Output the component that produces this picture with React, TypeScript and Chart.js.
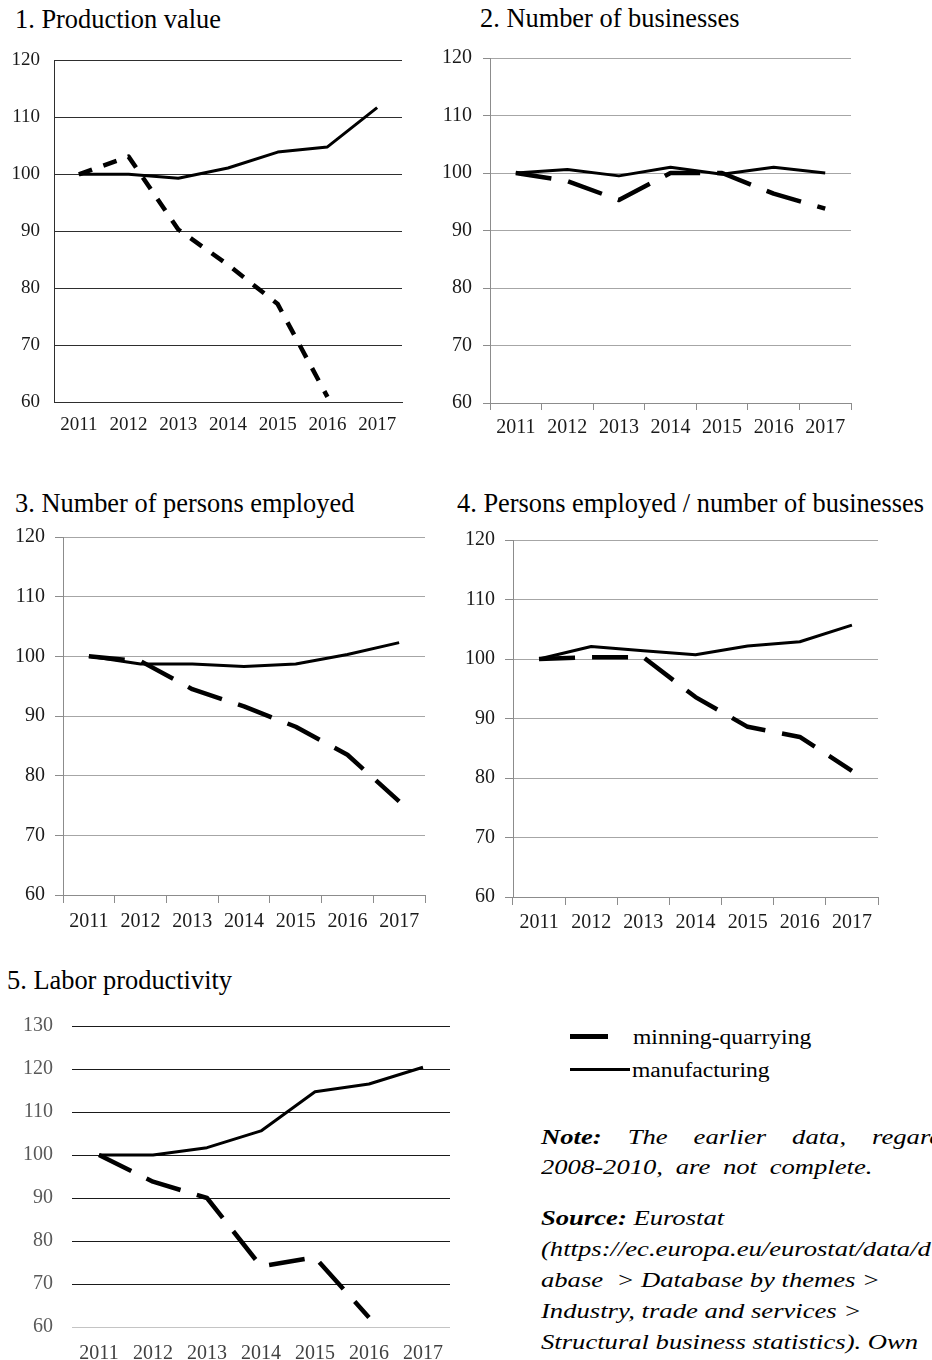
import React, { useEffect, useRef } from "react";
import { Chart, registerables } from "chart.js";

Chart.register(...registerables);

// ---------- data ----------
const years = ["2011", "2012", "2013", "2014", "2015", "2016", "2017"];

const prodMining = [100, 103.1, 90.3, 84.1, 77.2, 60.9, null];
const prodManuf = [100, 100, 99.3, 101.1, 103.9, 104.8, 111.7];

const bizMining = [100, 98.6, 95.3, 100, 100, 96.4, 93.8];
const bizManuf = [100, 100.6, 99.5, 101, 99.8, 101, 100];

const empMining = [100, 99.2, 94.5, 91.6, 88.2, 83.5, 75.7];
const empManuf = [100, 98.7, 98.7, 98.3, 98.7, 100.3, 102.3];

const ratioMining = [100, 100.3, 100.3, 93.6, 88.6, 86.9, 81.2];
const ratioManuf = [100, 102.1, 101.4, 100.7, 102.2, 102.9, 105.7];

const labMining = [100, 93.8, 90, 74.1, 76.2, 62.2, null];
const labManuf = [100, 100, 101.7, 105.6, 114.7, 116.5, 120.4];

const titles = [
  "1. Production value",
  "2. Number of businesses",
  "3. Number of persons employed",
  "4. Persons employed / number of businesses",
  "5. Labor productivity",
];

const legendLabels = ["minning-quarrying", "manufacturing"];

const FONT = "'Liberation Serif', 'Times New Roman', serif";

type ChartSpec = {
  canvas: { left: number; top: number; width: number; height: number };
  plot: { l: number; t: number; r: number; b: number };
  yMax: number;
  mining: (number | null)[];
  manuf: (number | null)[];
  fontSize: number;
  xPad: number;
  yPad: number;
  tickLen: number;
  gridColor: string;
  baseGridColor?: string;
  borderColor: string;
  showYBorder: boolean;
  showXBorder: boolean;
  dash: number[];
  yLabelColor: string;
  xLabelColor: string;
};

function LineChart({ spec }: { spec: ChartSpec }) {
  const ref = useRef<HTMLCanvasElement>(null);
  const c = spec.canvas;
  const p = spec.plot;
  useEffect(() => {
    const yW = p.l - c.left;
    const xH = c.top + c.height - p.b;
    const font = { family: FONT, size: spec.fontSize };
    const chart = new Chart(ref.current as HTMLCanvasElement, {
      type: "line",
      data: {
        labels: years,
        datasets: [
          {
            label: legendLabels[0],
            data: spec.mining,
            borderColor: "#000",
            backgroundColor: "#000",
            borderWidth: 4.5,
            borderDash: spec.dash,
            borderCapStyle: "butt",
            borderJoinStyle: "round",
            pointRadius: 0,
            tension: 0,
            fill: false,
            spanGaps: false,
          },
          {
            label: legendLabels[1],
            data: spec.manuf,
            borderColor: "#000",
            backgroundColor: "#000",
            borderWidth: 3,
            borderJoinStyle: "round",
            pointRadius: 0,
            tension: 0,
            fill: false,
          },
        ],
      },
      options: {
        responsive: false,
        animation: false,
        layout: {
          padding: {
            left: 0,
            top: p.t - c.top,
            right: c.left + c.width - p.r,
            bottom: 0,
          },
        },
        plugins: {
          legend: { display: false },
          tooltip: { enabled: false },
        },
        scales: {
          x: {
            type: "category",
            offset: true,
            grid: {
              display: spec.tickLen > 0,
              offset: true,
              drawOnChartArea: false,
              drawTicks: true,
              tickLength: spec.tickLen,
              tickColor: spec.borderColor,
              tickWidth: 1,
            },
            border: {
              display: spec.showXBorder,
              color: spec.borderColor,
              width: 1,
            },
            ticks: {
              color: spec.xLabelColor,
              font,
              padding: spec.xPad,
              maxRotation: 0,
              autoSkip: false,
            },
            afterFit: (s: any) => {
              s.height = xH;
            },
          },
          y: {
            min: 60,
            max: spec.yMax,
            ticks: {
              stepSize: 10,
              color: spec.yLabelColor,
              font,
              padding: spec.yPad,
            },
            grid: {
              color: (ctx: any) =>
                ctx.tick && ctx.tick.value === 60 && spec.baseGridColor
                  ? spec.baseGridColor
                  : spec.gridColor,
              lineWidth: 1,
              drawTicks: spec.tickLen > 0,
              tickLength: spec.tickLen,
              tickColor: spec.borderColor,
            },
            border: {
              display: spec.showYBorder,
              color: spec.borderColor,
              width: 1,
            },
            afterFit: (s: any) => {
              s.width = yW;
            },
          },
        },
      },
    } as any);
    return () => chart.destroy();
  }, []);
  return (
    <canvas
      ref={ref}
      width={c.width}
      height={c.height}
      style={{
        position: "absolute",
        left: c.left,
        top: c.top,
        width: c.width,
        height: c.height,
      }}
    />
  );
}

const specs: ChartSpec[] = [
  {
    canvas: { left: 0, top: 35, width: 420, height: 410 },
    plot: { l: 54, t: 53, r: 402, b: 402 },
    yMax: 120,
    mining: prodMining,
    manuf: prodManuf,
    fontSize: 19,
    xPad: 12,
    yPad: 14,
    tickLen: 0,
    gridColor: "#2e2e2e",
    borderColor: "#2e2e2e",
    showYBorder: true,
    showXBorder: true,
    dash: [14, 12],
    yLabelColor: "#1a1a1a",
    xLabelColor: "#1a1a1a",
  },
  {
    canvas: { left: 430, top: 35, width: 440, height: 410 },
    plot: { l: 490, t: 54, r: 851, b: 403 },
    yMax: 120,
    mining: bizMining,
    manuf: bizManuf,
    fontSize: 20,
    xPad: 6,
    yPad: 11,
    tickLen: 7,
    gridColor: "#a6a6a6",
    borderColor: "#8c8c8c",
    showYBorder: true,
    showXBorder: true,
    dash: [36, 17],
    yLabelColor: "#1a1a1a",
    xLabelColor: "#1a1a1a",
  },
  {
    canvas: { left: 0, top: 515, width: 440, height: 420 },
    plot: { l: 63, t: 533, r: 425, b: 895 },
    yMax: 120,
    mining: empMining,
    manuf: empManuf,
    fontSize: 20,
    xPad: 7,
    yPad: 10,
    tickLen: 8,
    gridColor: "#a6a6a6",
    borderColor: "#8c8c8c",
    showYBorder: true,
    showXBorder: true,
    dash: [36, 17],
    yLabelColor: "#1a1a1a",
    xLabelColor: "#1a1a1a",
  },
  {
    canvas: { left: 450, top: 518, width: 450, height: 420 },
    plot: { l: 513, t: 538, r: 878, b: 897 },
    yMax: 120,
    mining: ratioMining,
    manuf: ratioManuf,
    fontSize: 20,
    xPad: 6,
    yPad: 10,
    tickLen: 8,
    gridColor: "#a6a6a6",
    borderColor: "#8c8c8c",
    showYBorder: true,
    showXBorder: true,
    dash: [36, 17],
    yLabelColor: "#1a1a1a",
    xLabelColor: "#1a1a1a",
  },
  {
    canvas: { left: 0, top: 995, width: 470, height: 365 },
    plot: { l: 72, t: 1016, r: 450, b: 1327 },
    yMax: 130,
    mining: labMining,
    manuf: labManuf,
    fontSize: 20,
    xPad: 15,
    yPad: 19,
    tickLen: 0,
    gridColor: "#1a1a1a",
    baseGridColor: "#c4c4c4",
    borderColor: "#1a1a1a",
    showYBorder: false,
    showXBorder: false,
    dash: [36, 17],
    yLabelColor: "#595959",
    xLabelColor: "#404040",
  },
];

const titlePos = [
  { left: 15, top: 4 },
  { left: 480, top: 3 },
  { left: 15, top: 488 },
  { left: 457, top: 488 },
  { left: 7, top: 965 },
];

const noteStyle: React.CSSProperties = {
  position: "absolute",
  left: 541,
  fontFamily: FONT,
  fontStyle: "italic",
  fontSize: 22,
  lineHeight: "30px",
  whiteSpace: "nowrap",
  transform: "scaleX(1.21)",
  transformOrigin: "left center",
  color: "#000",
};

const legendText: React.CSSProperties = {
  ...noteStyle,
  fontStyle: "normal",
  fontSize: 20,
  transform: "scaleX(1.18)",
};

export default function App() {
  return (
    <div
      style={{
        position: "absolute",
        left: 0,
        top: 0,
        width: 932,
        height: 1360,
        overflow: "hidden",
        background: "#fff",
      }}
    >
      {titles.map((t, i) => (
        <div
          key={t}
          style={{
            position: "absolute",
            left: titlePos[i].left,
            top: titlePos[i].top,
            fontFamily: FONT,
            fontSize: 26.4,
            lineHeight: "30px",
            whiteSpace: "nowrap",
            color: "#000",
          }}
        >
          {t}
        </div>
      ))}
      {specs.map((s, i) => (
        <LineChart key={i} spec={s} />
      ))}

      {/* legend */}
      <div
        style={{
          position: "absolute",
          left: 570,
          top: 1034,
          width: 38,
          height: 5,
          background: "#000",
        }}
      />
      <div style={{ ...legendText, left: 633, top: 1022 }}>{legendLabels[0]}</div>
      <div
        style={{
          position: "absolute",
          left: 570,
          top: 1068,
          width: 60,
          height: 3,
          background: "#000",
        }}
      />
      <div style={{ ...legendText, left: 632, top: 1055 }}>{legendLabels[1]}</div>

      {/* note */}
      <div
        style={{
          ...noteStyle,
          top: 1122,
          width: 360,
          textAlign: "justify",
          textAlignLast: "justify",
          whiteSpace: "normal",
        }}
      >
        <b>Note:</b> The earlier data, regarding
      </div>
      <div style={{ ...noteStyle, top: 1152, wordSpacing: "5px" }}>
        2008-2010, are not complete.
      </div>
      <div style={{ ...noteStyle, top: 1203 }}>
        <b>Source:</b> Eurostat
      </div>
      <div style={{ ...noteStyle, top: 1234 }}>
        (https://ec.europa.eu/eurostat/data/d
      </div>
      <div style={{ ...noteStyle, top: 1265, whiteSpace: "pre" }}>
        {"abase  > Database by themes >"}
      </div>
      <div style={{ ...noteStyle, top: 1296 }}>Industry, trade and services &gt;</div>
      <div style={{ ...noteStyle, top: 1327 }}>
        Structural business statistics). Own
      </div>
    </div>
  );
}
